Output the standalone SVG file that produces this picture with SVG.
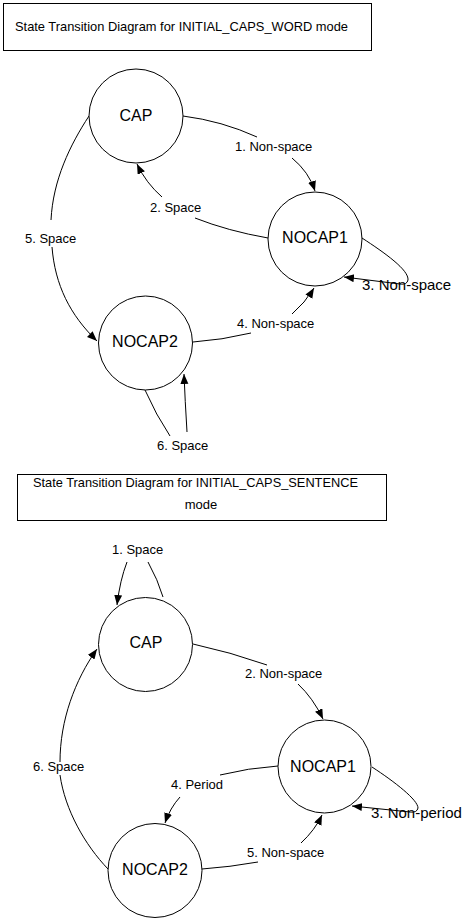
<svg xmlns="http://www.w3.org/2000/svg" width="469" height="921" viewBox="0 0 469 921">
<style>
.bg{fill:#fff}
.box{fill:#fff;stroke:#000;stroke-width:1}
.st{fill:#fff;stroke:#000;stroke-width:1}
.e{fill:none;stroke:#000;stroke-width:1}
.t{font-family:"Liberation Sans",Arial,sans-serif;fill:#000}
.title{font-size:13px}
.node{font-size:16px;text-anchor:middle}
.lbl{font-size:13px}
.big{font-size:15px}
</style>
<defs>
<marker id="arr" markerUnits="userSpaceOnUse" markerWidth="11" markerHeight="9" refX="10" refY="4" orient="auto">
<path d="M0,0 L10,4 L0,8 z" fill="#000"/>
</marker>
</defs>
<rect class="bg" x="0" y="0" width="469" height="921"/>
<g id="title-word">
<rect class="box" x="3.5" y="3.5" width="368" height="47"/>
<text class="t title" x="15" y="31" textLength="333" lengthAdjust="spacingAndGlyphs">State Transition Diagram for INITIAL_CAPS_WORD mode</text>
</g>
<g id="title-sentence">
<rect class="box" x="17.5" y="474.5" width="369" height="46"/>
<text class="t title" x="33" y="487" textLength="325" lengthAdjust="spacingAndGlyphs">State Transition Diagram for INITIAL_CAPS_SENTENCE</text>
<text class="t title" x="201" y="509" text-anchor="middle">mode</text>
</g>
<g id="connectors">
<path class="e" d="M183,116 Q222,121 257,137"/>
<path class="e" d="M292,158 Q309,172 315,191" marker-end="url(#arr)"/>
<path class="e" d="M268,238 Q228,231 195,218"/>
<path class="e" d="M162,197 Q146,183 137,164" marker-end="url(#arr)"/>
<path class="e" d="M89,116 C70,145 53,180 51,220"/>
<path class="e" d="M52,247 C55,285 70,315 97,341" marker-end="url(#arr)"/>
<path class="e" d="M362,238 C385,253 409,270 408,280 Q407,285 400,284 L344,277" marker-end="url(#arr)"/>
<path class="e" d="M193,342 Q222,340 251,333"/>
<path class="e" d="M292,314 Q305,303 314,288" marker-end="url(#arr)"/>
<path class="e" d="M145,390 Q156,415 170,436"/>
<path class="e" d="M187,432 Q185,400 184,374" marker-end="url(#arr)"/>
<path class="e" d="M163,597 Q158,580 148,562"/>
<path class="e" d="M127,562 Q120,580 117,605" marker-end="url(#arr)"/>
<path class="e" d="M193,644 Q230,652 267,665"/>
<path class="e" d="M298,684 Q313,698 323,719" marker-end="url(#arr)"/>
<path class="e" d="M278,766 Q248,768 220,775"/>
<path class="e" d="M180,797 Q170,808 165,823" marker-end="url(#arr)"/>
<path class="e" d="M202,869 Q230,867 258,862"/>
<path class="e" d="M301,843 Q315,830 322,815" marker-end="url(#arr)"/>
<path class="e" d="M372,767 C395,782 418,800 418,808 Q417,813 410,812 L352,806" marker-end="url(#arr)"/>
<path class="e" d="M108,869 C85,845 65,810 60,775"/>
<path class="e" d="M60,762 C60,720 75,680 97,649" marker-end="url(#arr)"/>
</g>
<g id="labels">
<text class="t lbl" x="235" y="151">1. Non-space</text>
<text class="t lbl" x="150" y="212">2. Space</text>
<text class="t lbl" x="25" y="243">5. Space</text>
<text class="t big" x="362" y="290">3. Non-space</text>
<text class="t lbl" x="237" y="328">4. Non-space</text>
<text class="t lbl" x="157" y="450">6. Space</text>
<text class="t lbl" x="112" y="554">1. Space</text>
<text class="t lbl" x="245" y="678">2. Non-space</text>
<text class="t lbl" x="171" y="789">4. Period</text>
<text class="t lbl" x="247" y="857">5. Non-space</text>
<text class="t big" x="371" y="818">3. Non-period</text>
<text class="t lbl" x="33" y="771">6. Space</text>
</g>
<g id="w-cap">
<circle class="st" cx="136" cy="116" r="47"/>
<text class="t node" x="136" y="121">CAP</text>
</g>
<g id="w-nocap1">
<circle class="st" cx="315" cy="239" r="47"/>
<text class="t node" x="315" y="243">NOCAP1</text>
</g>
<g id="w-nocap2">
<circle class="st" cx="145.5" cy="343" r="47"/>
<text class="t node" x="145" y="347">NOCAP2</text>
</g>
<g id="s-cap">
<circle class="st" cx="145.5" cy="644.5" r="47"/>
<text class="t node" x="146" y="648">CAP</text>
</g>
<g id="s-nocap1">
<circle class="st" cx="324.5" cy="766.5" r="46.5"/>
<text class="t node" x="323" y="772">NOCAP1</text>
</g>
<g id="s-nocap2">
<circle class="st" cx="155" cy="870.5" r="47"/>
<text class="t node" x="155" y="875">NOCAP2</text>
</g>
</svg>
